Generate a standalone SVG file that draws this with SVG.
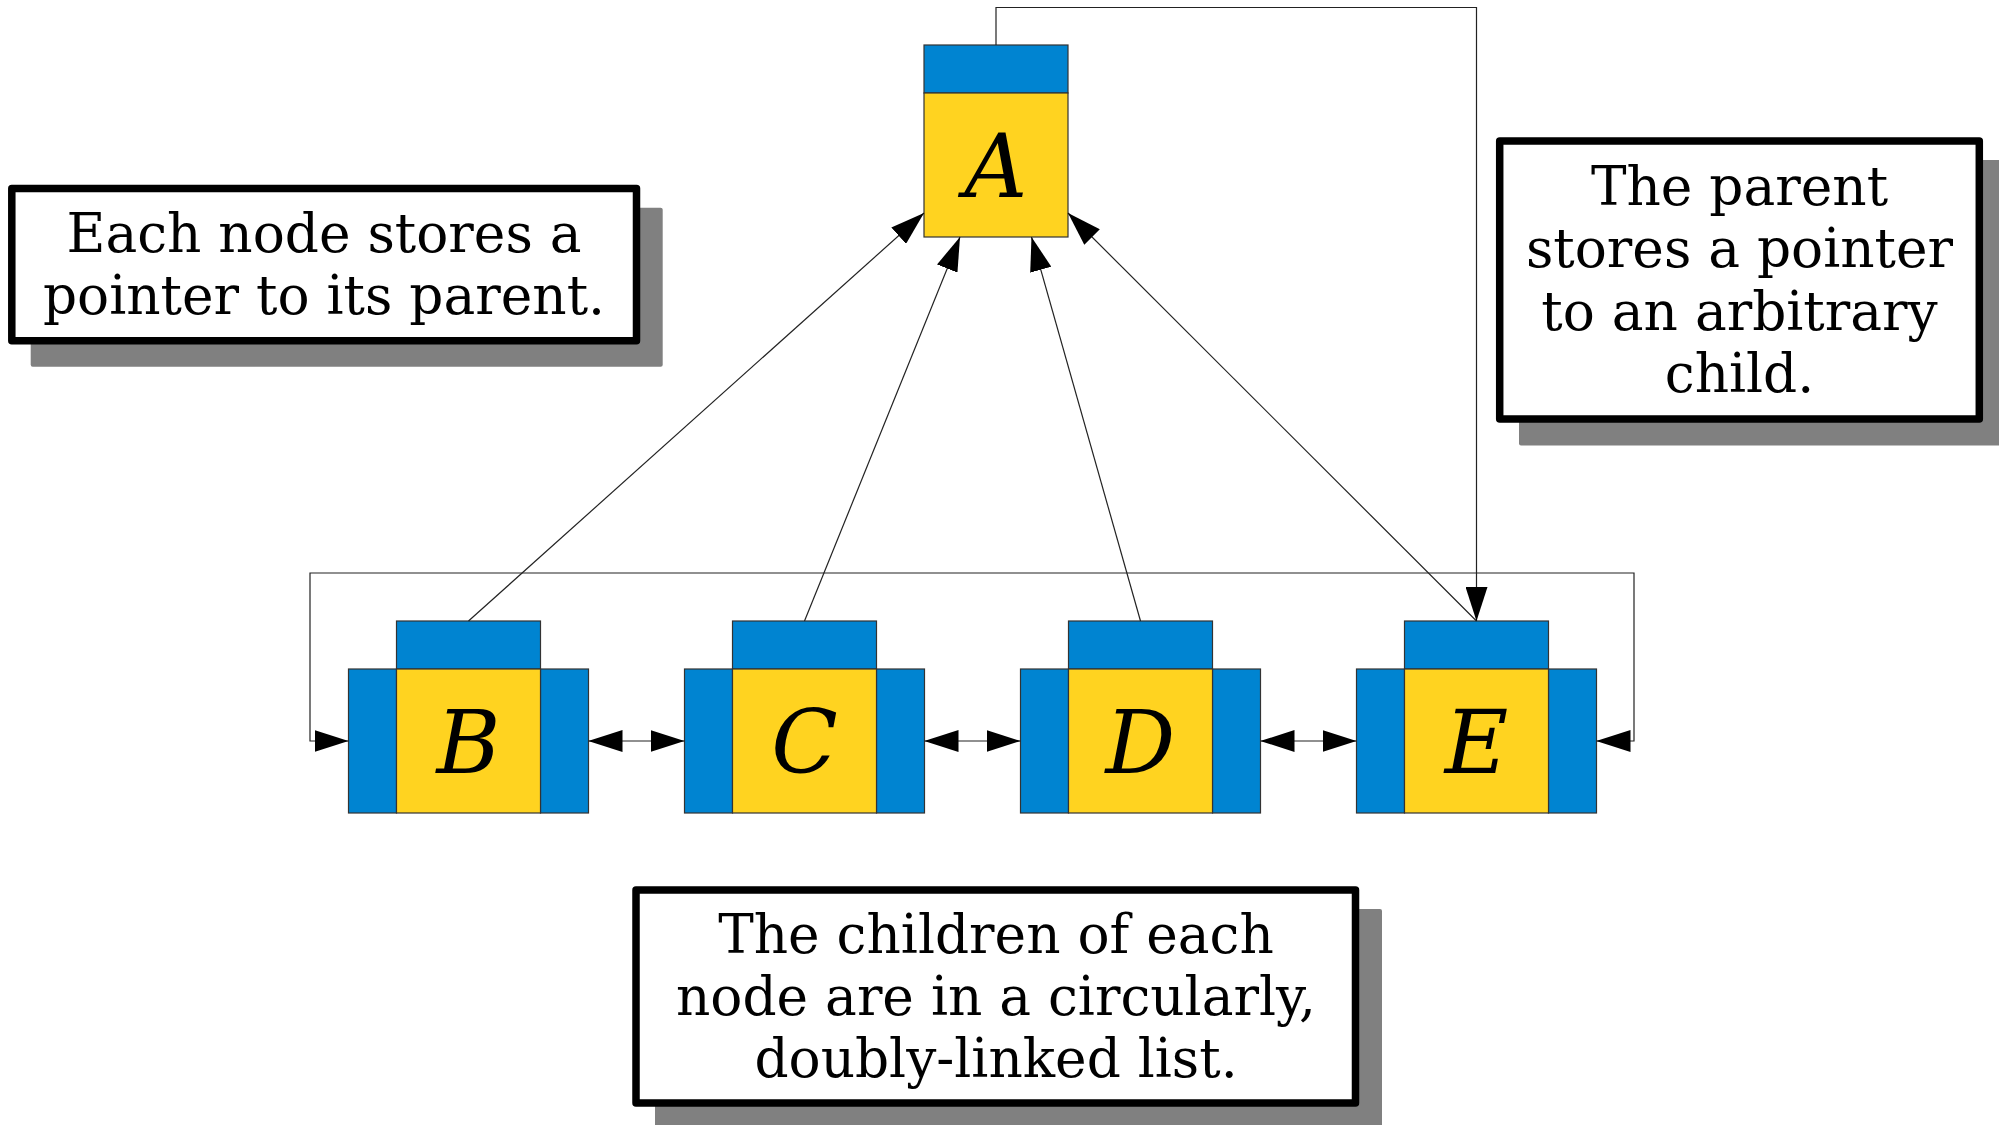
<svg xmlns="http://www.w3.org/2000/svg" width="1999" height="1125" viewBox="0 0 1999 1125">
<style>
.blue{fill:#0084D1;stroke:#333;stroke-width:1.2}
.yellow{fill:#FFD320;stroke:#333;stroke-width:1.2}
.lbl{font-family:"DejaVu Serif",serif;font-style:italic;font-size:87px;fill:#000;text-anchor:middle}
.note{font-family:"DejaVu Serif",serif;font-size:53.33px;fill:#000;text-anchor:middle}
.box{fill:#fff;stroke:#000;stroke-width:7.5;stroke-linejoin:round}
.shadow{fill:#808080}
.con{fill:none;stroke:#222;stroke-width:1.2}
</style>
<defs>
<marker id="ah" viewBox="0 0 34 22" refX="34" refY="11" markerWidth="34" markerHeight="22" markerUnits="userSpaceOnUse" orient="auto-start-reverse">
<path d="M0,0 L34,11 L0,22 Z" fill="#000"/>
</marker>
</defs>

<g id="note-parent-pointer">
<rect class="shadow" x="30.7" y="207.7" width="632" height="159" rx="2"/>
<rect class="box" x="11.8" y="188.6" width="624.7" height="152.2"/>
<text class="note" x="324" y="252">Each node stores a</text>
<text class="note" x="324" y="314">pointer to its parent.</text>
</g>

<g id="note-child-pointer">
<rect class="shadow" x="1519" y="160" width="487" height="285.5" rx="2"/>
<rect class="box" x="1499.7" y="141" width="479.6" height="278"/>
<text class="note" x="1739.5" y="205.3">The parent</text>
<text class="note" x="1739.5" y="267.4">stores a pointer</text>
<text class="note" x="1739.5" y="329.5">to an arbitrary</text>
<text class="note" x="1739.5" y="391.6">child.</text>
</g>

<g id="note-list">
<rect class="shadow" x="655" y="909" width="727" height="220" rx="2"/>
<rect class="box" x="636" y="890" width="719.5" height="213"/>
<text class="note" x="996" y="953">The children of each</text>
<text class="note" x="996" y="1015">node are in a circularly,</text>
<text class="note" x="996" y="1077">doubly-linked list.</text>
</g>

<g id="node-A">
<rect class="blue" x="924" y="45" width="144" height="48"/>
<rect class="yellow" x="924" y="93" width="144" height="144"/>
<text class="lbl" x="996" y="196.5">A</text>
</g>

<g id="node-B">
<rect class="blue" x="396.5" y="621" width="144" height="48"/>
<rect class="blue" x="348.5" y="669" width="48" height="144"/>
<rect class="blue" x="540.5" y="669" width="48" height="144"/>
<rect class="yellow" x="396.5" y="669" width="144" height="144"/>
<text class="lbl" x="468.5" y="772.5">B</text>
</g>

<g id="node-C">
<rect class="blue" x="732.5" y="621" width="144" height="48"/>
<rect class="blue" x="684.5" y="669" width="48" height="144"/>
<rect class="blue" x="876.5" y="669" width="48" height="144"/>
<rect class="yellow" x="732.5" y="669" width="144" height="144"/>
<text class="lbl" x="804.5" y="772.5">C</text>
</g>

<g id="node-D">
<rect class="blue" x="1068.5" y="621" width="144" height="48"/>
<rect class="blue" x="1020.5" y="669" width="48" height="144"/>
<rect class="blue" x="1212.5" y="669" width="48" height="144"/>
<rect class="yellow" x="1068.5" y="669" width="144" height="144"/>
<text class="lbl" x="1140.5" y="772.5">D</text>
</g>

<g id="node-E">
<rect class="blue" x="1404.5" y="621" width="144" height="48"/>
<rect class="blue" x="1356.5" y="669" width="48" height="144"/>
<rect class="blue" x="1548.5" y="669" width="48" height="144"/>
<rect class="yellow" x="1404.5" y="669" width="144" height="144"/>
<text class="lbl" x="1476.5" y="772.5">E</text>
</g>

<g id="connectors">
<path class="con" d="M468.5,621 L924,213" marker-end="url(#ah)"/>
<path class="con" d="M804.5,621 L960,237" marker-end="url(#ah)"/>
<path class="con" d="M1140.5,621 L1031.5,237" marker-end="url(#ah)"/>
<path class="con" d="M1476.5,621 L1068,213" marker-end="url(#ah)"/>
<path class="con" d="M996,45 V7.5 H1476.5 V621" marker-end="url(#ah)"/>
<path class="con" d="M588.5,741 H684.5" marker-start="url(#ah)" marker-end="url(#ah)"/>
<path class="con" d="M924.5,741 H1020.5" marker-start="url(#ah)" marker-end="url(#ah)"/>
<path class="con" d="M1260.5,741 H1356.5" marker-start="url(#ah)" marker-end="url(#ah)"/>
<path class="con" d="M348.5,741 H310 V573 H1634 V741 H1596.5" marker-start="url(#ah)" marker-end="url(#ah)"/>
</g>
</svg>
